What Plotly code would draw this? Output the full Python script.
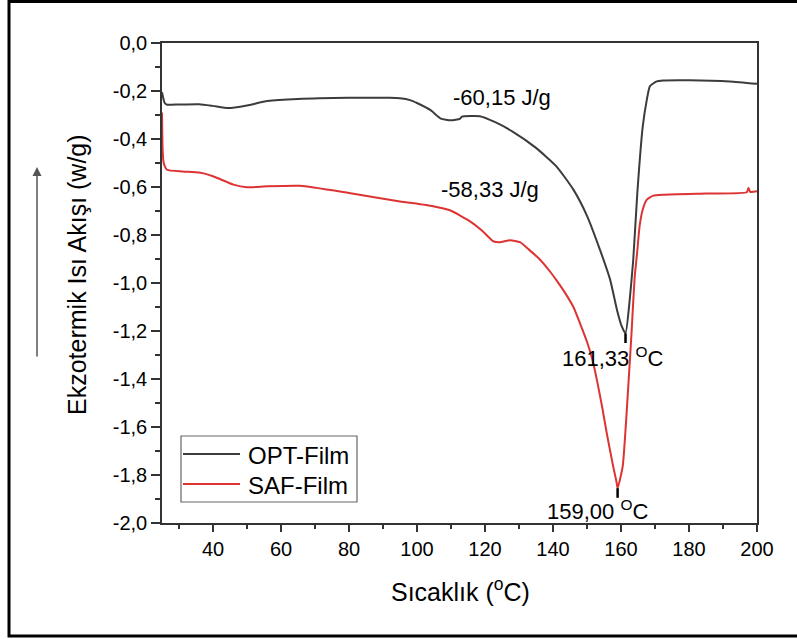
import plotly.graph_objects as go

# ---------------- data ----------------
series_names = ["OPT-Film", "SAF-Film"]
series_colors = ["#3c3c3c", "#dd3333"]

opt_temp = [25.0, 25.3, 25.8, 26.5, 30, 36, 40, 44.5, 50, 56, 65, 80, 92, 95, 98,
            100, 104, 107, 110, 112.6, 113.2, 118.5, 123, 128, 135, 141, 146,
            150, 153.8, 156.8, 158.8, 160.2, 161.33, 162.5, 163.6, 164.8,
            166.4, 167.6, 168.5, 170.5, 172.4, 180, 192, 200]
opt_flow = [-0.205, -0.225, -0.25, -0.257, -0.256, -0.255, -0.262, -0.271, -0.26,
            -0.242, -0.233, -0.228, -0.228, -0.23, -0.238, -0.25, -0.28, -0.315,
            -0.322, -0.316, -0.307, -0.305, -0.33, -0.368, -0.437, -0.514, -0.611,
            -0.72, -0.861, -0.986, -1.111, -1.18, -1.21, -1.08, -0.903, -0.625,
            -0.347, -0.236, -0.18, -0.16, -0.156, -0.155, -0.16, -0.17]

saf_temp = [25.0, 25.2, 25.5, 26.5, 31, 36, 40, 46, 50, 56, 65.6, 80, 95, 104.7,
            109.7, 115.6, 119, 122.4, 124.4, 127.4, 130.3, 133, 136, 139, 141.1,
            143.5, 146, 148, 150, 151.5, 153, 154.5, 155.8, 157.7, 158.7, 159.0,
            160.5, 162.2, 163.1, 164.0, 164.7, 165.5, 166.4, 167.6, 169.5, 172.5,
            185, 197, 197.5, 198, 200]
saf_flow = [-0.29, -0.45, -0.5, -0.528, -0.535, -0.54, -0.555, -0.59, -0.601,
            -0.597, -0.595, -0.625, -0.66, -0.68, -0.697, -0.743, -0.78, -0.826,
            -0.83, -0.822, -0.83, -0.862, -0.9, -0.95, -0.99, -1.04, -1.10, -1.17,
            -1.245, -1.315, -1.41, -1.52, -1.625, -1.764, -1.83, -1.855, -1.764,
            -1.417, -1.208, -0.98, -0.88, -0.76, -0.694, -0.653, -0.636, -0.632,
            -0.627, -0.622, -0.604, -0.62, -0.618]

peak_temps = [161.33, 159.00]
peak_flows = [-1.21, -1.855]
peak_labels = ["161,33 <sup>O</sup>C", "159,00 <sup>O</sup>C"]
enthalpy_labels = ["-60,15 J/g", "-58,33 J/g"]

x_ticks = [40, 60, 80, 100, 120, 140, 160, 180, 200]
y_ticks = [0.0, -0.2, -0.4, -0.6, -0.8, -1.0, -1.2, -1.4, -1.6, -1.8, -2.0]
y_ticktext = ["0,0", "-0,2", "-0,4", "-0,6", "-0,8", "-1,0", "-1,2", "-1,4",
              "-1,6", "-1,8", "-2,0"]
x_title = "Sıcaklık (<sup>o</sup>C)"
y_title = "Ekzotermik Isı Akışı (w/g)"

# ---------------- layout geometry ----------------
W, H = 797, 639
L, R, T, B = 162, 40, 43, 116
PW, PH = W - L - R, H - T - B


def px(x):
    return (x - L) / PW


def py(y):
    return (H - B - y) / PH


FONT = "Liberation Sans, Arial, sans-serif"

fig = go.Figure()
for name, color, xs, ys in [(series_names[0], series_colors[0], opt_temp, opt_flow),
                            (series_names[1], series_colors[1], saf_temp, saf_flow)]:
    fig.add_trace(go.Scatter(x=xs, y=ys, mode="lines", name=name,
                             line=dict(color=color, width=2, shape="spline",
                                       smoothing=0.5),
                             showlegend=False))

# peak markers (short vertical ticks at the minima)
for t, f in zip(peak_temps, peak_flows):
    fig.add_trace(go.Scatter(x=[t, t], y=[f, f - 0.04], mode="lines",
                             line=dict(color="black", width=2.5), showlegend=False,
                             hoverinfo="skip"))


def txt(x, y, text, size, xref="x", yref="y", **kw):
    d = dict(x=x, y=y, xref=xref, yref=yref, text=text, showarrow=False,
             xanchor="center", yanchor="middle",
             font=dict(size=size, color="black", family=FONT))
    d.update(kw)
    return d


annotations = [
    txt(125, -0.228, enthalpy_labels[0], 22),
    txt(121.5, -0.611, enthalpy_labels[1], 22),
    txt(157.5, -1.307, peak_labels[0], 22),
    txt(153.1, -1.945, peak_labels[1], 22),
    txt(px(460), py(590), x_title, 25, xref="paper", yref="paper"),
    txt(px(77), py(275), y_title, 25, xref="paper", yref="paper", textangle=-90),
    dict(x=px(37), y=py(167), xref="paper", yref="paper", text="",
         showarrow=True, ax=0, ay=191, arrowhead=2, arrowsize=1.2,
         arrowwidth=1.5, arrowcolor="#555555"),
]

# manual legend
shapes = [dict(type="rect", xref="paper", yref="paper", x0=px(181), x1=px(357),
               y0=py(502), y1=py(436), line=dict(color="#666666", width=1.2),
               fillcolor="white", layer="above")]
for i, (name, color) in enumerate(zip(series_names, series_colors)):
    yy = 454 + 30 * i
    shapes.append(dict(type="line", xref="paper", yref="paper", x0=px(183), x1=px(240),
                       y0=py(yy), y1=py(yy), line=dict(color=color, width=2),
                       layer="above"))
    annotations.append(txt(px(246), py(yy + 1), name, 24, xref="paper", yref="paper",
                           xanchor="left"))

# outer frame
shapes.append(dict(type="rect", xref="paper", yref="paper", x0=px(9), x1=px(810),
                   y0=py(636), y1=py(1.5), line=dict(color="black", width=3),
                   layer="above"))

fig.update_layout(
    width=W, height=H,
    margin=dict(l=L, r=R, t=T, b=B),
    plot_bgcolor="white", paper_bgcolor="white",
    font=dict(family=FONT, color="black"),
    annotations=annotations, shapes=shapes,
    showlegend=False,
    xaxis=dict(range=[25, 200], tickvals=x_ticks, ticks="outside", ticklen=7,
               tickwidth=1.5, tickcolor="#333333", showline=True, linecolor="#333333",
               linewidth=1.5, mirror=True, showgrid=False, zeroline=False,
               tickfont=dict(size=20, color="black", family=FONT),
               minor=dict(ticks="outside", ticklen=4, dtick=10, tick0=0,
                          tickcolor="#333333", tickwidth=1.5, showgrid=False)),
    yaxis=dict(range=[-2.0, 0.0], tickvals=y_ticks, ticktext=y_ticktext,
               ticks="outside", ticklen=9, tickwidth=1.5, tickcolor="#333333",
               showline=True, linecolor="#333333", linewidth=1.5, mirror=True,
               showgrid=False, zeroline=False,
               tickfont=dict(size=20, color="black", family=FONT),
               minor=dict(ticks="outside", ticklen=5, dtick=0.1, tick0=0,
                          tickcolor="#333333", tickwidth=1.5, showgrid=False)),
)

fig.write_html("out.html",
               config={"displayModeBar": False},
               post_script="document.body.style.margin='0';"
                           "document.body.style.overflow='hidden';")
